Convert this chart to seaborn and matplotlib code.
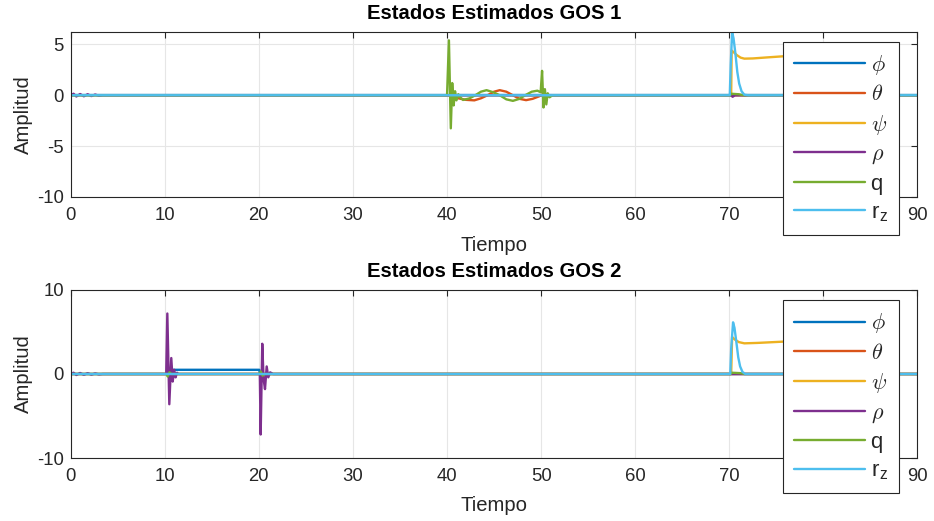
import matplotlib
matplotlib.use("Agg")
import matplotlib.pyplot as plt
import seaborn as sns
import pandas as pd

# ---------------- data ----------------
states = ["phi", "theta", "psi", "rho", "q", "rz"]
labels = [r"$\phi$", r"$\theta$", r"$\psi$", r"$\rho$", "q", r"r$_\mathregular{z}$"]
colors = ["#0072BD", "#D95319", "#EDB120", "#7E2F8E", "#77AC30", "#4DBEEE"]

x_ticks = [0, 10, 20, 30, 40, 50, 60, 70, 80, 90]
y_ticks_1 = [-10, -5, 0, 5]
y_ticks_2 = [-10, 0, 10]

# --- GOS 1 ---
phi1_t = [0, 90]
phi1_v = [0, 0]
theta1_t = [0, 40.3, 40.6, 41.2, 42.0, 42.9, 43.6, 44.3, 45.0, 45.6, 46.3, 47.0, 47.7, 48.4, 49.1, 49.8, 50.2, 50.6, 51.0, 90]
theta1_v = [0, 0, -0.1, -0.3, -0.45, -0.5, -0.3, 0, 0.35, 0.5, 0.35, 0, -0.35, -0.48, -0.35, -0.1, 0.1, -0.05, 0, 0]
psi1_t = [0, 70.2, 70.25, 70.5, 70.8, 71.2, 71.6, 72.5, 74.0, 76.5, 80.0, 86.0, 86.1, 90]
psi1_v = [0, 0, 4.4, 4.2, 3.95, 3.7, 3.6, 3.62, 3.72, 3.88, 4.0, 4.0, 0, 0]
rho1_t = [0, 0.3, 0.6, 1.0, 1.4, 1.8, 2.2, 2.6, 3.0, 3.4, 70.2, 70.35, 70.6, 90]
rho1_v = [0, 0.15, -0.12, 0.12, -0.1, 0.1, -0.08, 0.07, -0.05, 0, 0, -0.15, 0, 0]
q1_t = [0, 40.0, 40.2, 40.4, 40.55, 40.7, 40.85, 41.0, 41.2, 41.4, 41.7, 42.4, 43.0, 43.6, 44.2,
        44.9, 45.6, 46.3, 47.0, 47.7, 48.3, 49.0, 49.6, 49.95, 50.1, 50.25, 50.4, 50.55, 50.7,
        50.9, 51.2, 70.1, 70.2, 71.0, 71.5, 90]
q1_v = [0, 0, 5.4, -3.25, 1.2, -1.0, 0.4, -0.5, 0.1, -0.2, -0.46, -0.3, 0, 0.35, 0.5,
        0.3, 0, -0.4, -0.55, -0.35, 0, 0.35, 0.45, 0.3, 2.4, -1.2, 0.6, -0.9, 0.2,
        -0.2, 0, 0, 0.15, 0.1, 0, 0]
rz1_t = [0, 70.05, 70.15, 70.3, 70.45, 70.65, 70.85, 71.05, 71.3, 71.6, 72.0, 90]
rz1_v = [0, 0, 3.0, 6.2, 5.6, 4.1, 2.3, 1.15, 0.4, 0.05, 0, 0]

# --- GOS 2 ---
phi2_t = [0, 10.85, 10.9, 20.05, 20.1, 90]
phi2_v = [0, 0, 0.5, 0.5, 0, 0]
theta2_t = [0, 90]
theta2_v = [0, 0]
psi2_t = [0, 70.2, 70.3, 70.6, 71.0, 71.6, 73.0, 75.7, 80.0, 86.0, 86.1, 90]
psi2_v = [0, 0, 4.4, 4.1, 3.8, 3.65, 3.7, 3.85, 3.95, 3.95, 0, 0]
rho2_t = [0, 0.3, 0.6, 1.0, 1.4, 1.8, 2.2, 2.6, 3.0, 3.4,
          10.15, 10.27, 10.48, 10.69, 10.84, 11.0, 11.15, 11.3, 11.45,
          20.1, 20.19, 20.36, 20.5, 20.65, 20.83, 21.0, 21.2, 21.5, 90]
rho2_v = [0, 0.15, -0.12, 0.12, -0.1, 0.1, -0.08, 0.07, -0.05, 0,
          0, 7.2, -3.6, 1.9, -0.9, 0.5, -0.4, 0.15, 0,
          0, -7.2, 3.6, -0.6, -1.8, 0.9, -0.4, 0.2, 0, 0]
q2_t = [0, 10.2, 10.3, 10.5, 10.7, 20.1, 20.2, 20.4, 20.6, 70.15, 70.25, 71.2, 71.6, 90]
q2_v = [0, 0, -0.3, 0.2, 0, 0, 0.3, -0.2, 0, 0, 0.15, 0.1, 0, 0]
rz2_t = [0, 70.1, 70.2, 70.4, 70.55, 70.75, 70.95, 71.15, 71.4, 71.7, 90]
rz2_v = [0, 0, 3.0, 6.15, 5.5, 3.8, 2.0, 0.9, 0.25, 0, 0]

series1 = {"phi": (phi1_t, phi1_v), "theta": (theta1_t, theta1_v), "psi": (psi1_t, psi1_v),
           "rho": (rho1_t, rho1_v), "q": (q1_t, q1_v), "rz": (rz1_t, rz1_v)}
series2 = {"phi": (phi2_t, phi2_v), "theta": (theta2_t, theta2_v), "psi": (psi2_t, psi2_v),
           "rho": (rho2_t, rho2_v), "q": (q2_t, q2_v), "rz": (rz2_t, rz2_v)}


def to_long(series):
    rows = []
    for name in states:
        t, v = series[name]
        for a, b in zip(t, v):
            rows.append({"t": a, "v": b, "state": name})
    return pd.DataFrame(rows)


# ---------------- style ----------------
sns.set_style("white")
plt.rcParams["font.family"] = ["Liberation Sans", "DejaVu Sans"]
plt.rcParams["mathtext.fontset"] = "cm"
plt.rcParams["axes.unicode_minus"] = False

AX_COL = "#262626"
fig = plt.figure(figsize=(9.34, 5.21), dpi=100)
ax1 = fig.add_axes([0.0757, 0.6219, 0.9066, 0.3167])
ax2 = fig.add_axes([0.0757, 0.1209, 0.9066, 0.3225])

palette = dict(zip(states, colors))

for ax, series, yt, ylim, title, xlp in [
    (ax1, series1, y_ticks_1, (-10, 6.22), "Estados Estimados GOS 1", 9),
    (ax2, series2, y_ticks_2, (-10, 10), "Estados Estimados GOS 2", 8),
]:
    df = to_long(series)
    sns.lineplot(data=df, x="t", y="v", hue="state", hue_order=states, palette=palette,
                 estimator=None, sort=False, legend=False, linewidth=1.7, ax=ax)
    ax.set_xlim(0, 90)
    ax.set_ylim(*ylim)
    ax.set_xticks(x_ticks)
    ax.set_yticks(yt)
    ax.grid(True, color="#e6e6e6", linewidth=0.8)
    ax.set_axisbelow(True)
    for sp in ax.spines.values():
        sp.set_color(AX_COL)
        sp.set_linewidth(0.8)
        sp.set_visible(True)
    ax.tick_params(direction="in", top=True, right=True, length=4, width=0.8,
                   colors=AX_COL, labelsize=13.3)
    ax.tick_params(axis="x", pad=7)
    ax.tick_params(axis="y", pad=5)
    ax.set_xlabel("Tiempo", fontsize=14.6, color=AX_COL, labelpad=xlp)
    ax.set_ylabel("Amplitud", fontsize=14.6, color=AX_COL, labelpad=3)
    ax.set_title(title, fontsize=14.6, fontweight="bold", color="black", pad=9)
    lines = ax.get_lines()[:len(states)]
    leg = ax.legend(lines, labels, loc="upper left", bbox_to_anchor=(0.841, 0.939),
                    fontsize=16, frameon=True, fancybox=False, framealpha=1,
                    edgecolor=AX_COL, handlelength=3.2, handletextpad=0.25,
                    labelspacing=0.33, borderpad=0.5, borderaxespad=0)
    leg.get_frame().set_linewidth(0.8)

fig.savefig("out.png", dpi=100)
